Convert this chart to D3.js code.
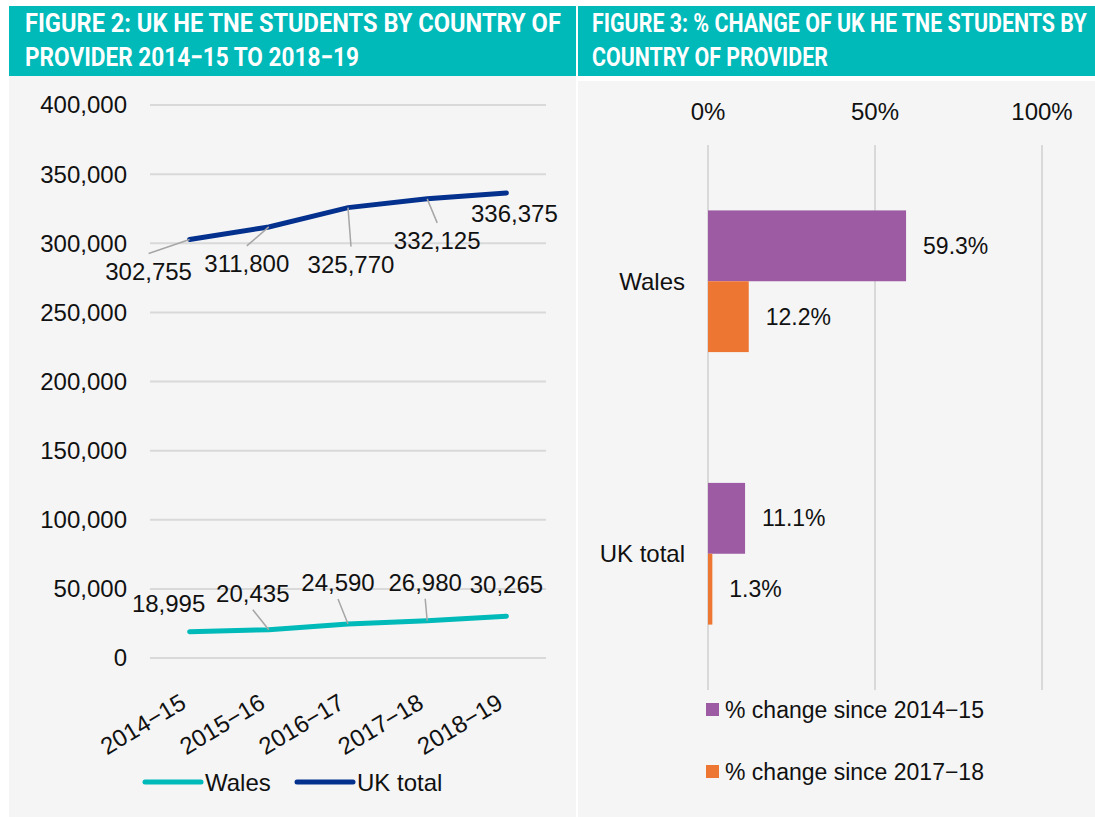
<!DOCTYPE html>
<html><head><meta charset="utf-8">
<script src="https://cdn.jsdelivr.net/npm/d3@7"></script>
<style>
html,body{margin:0;padding:0;background:#fff;}
svg{display:block;font-family:"Liberation Sans",Arial,sans-serif;}
</style></head>
<body><svg id="c" width="1095" height="817"></svg>
<script>
// ---- data ----
const years = ["2014−15", "2015−16", "2016−17", "2017−18", "2018−19"];
const walesValues = [18995, 20435, 24590, 26980, 30265];
const ukValues = [302755, 311800, 325770, 332125, 336375];
const yTicks = [0, 50000, 100000, 150000, 200000, 250000, 300000, 350000, 400000];
const lineSeries = ["Wales", "UK total"];

const barCategories = ["Wales", "UK total"];
const barSeries = ["% change since 2014−15", "% change since 2017−18"];
const since201415 = [59.3, 11.1];
const since201718 = [12.2, 1.3];
const xTicksPct = [0, 50, 100];

const title2 = ["FIGURE 2: UK HE TNE STUDENTS BY COUNTRY OF", "PROVIDER 2014−15 TO 2018−19"];
const title3 = ["FIGURE 3: % CHANGE OF UK HE TNE STUDENTS BY", "COUNTRY OF PROVIDER"];

// label offsets (styling)
const ukLabelOff = [[-41,32],[-22,37],[3,57],[10,42],[8,21]];
const ukLeader = [true,true,true,true,false];
const walesLabelOff = [[-21,-28],[-16,-36],[-10,-41],[-2,-38],[0,-32]];
const walesLeader = [false,true,true,true,false];

const svg = d3.select("#c");
const TEAL = "#00B9B9", NAVY = "#04318E", PURPLE = "#9C5BA3", ORANGE = "#ED7633", GRID = "#D9D9D9", BG = "#F5F5F5";

// panels
svg.append("rect").attr("x",9).attr("y",6).attr("width",567).attr("height",70).attr("fill",TEAL);
svg.append("rect").attr("x",9).attr("y",76).attr("width",567).attr("height",741).attr("fill",BG);
svg.append("rect").attr("x",578).attr("y",6).attr("width",517).attr("height",70).attr("fill",TEAL);
svg.append("rect").attr("x",578).attr("y",81).attr("width",517).attr("height",736).attr("fill",BG);

function title(lines, x, lens){
  lines.forEach((t,i)=>{
    const yy = i===0?32:66;
    const tx = svg.append("text").attr("x",0).attr("y",0)
      .attr("fill","#fff").attr("font-family","Roboto, sans-serif").attr("font-weight",700)
      .attr("font-size",26).text(t);
    const w = tx.node().getComputedTextLength();
    tx.attr("transform",`translate(${x},${yy}) scale(${lens[i]/w},1)`);
  });
}
title(title2, 25, [536, 334]);
title(title3, 592, [495, 236]);

// ---- Figure 2: line chart ----
const x = d3.scalePoint().domain(years).range([150,546]).padding(0.5);
const y = d3.scaleLinear().domain([0,400000]).range([658,105]);
const g = svg.append("g");

g.selectAll("line.grid").data(yTicks).enter().append("line")
  .attr("x1",150).attr("x2",546).attr("y1",d=>y(d)).attr("y2",d=>y(d))
  .attr("stroke",GRID).attr("stroke-width",2);
g.selectAll("text.yt").data(yTicks).enter().append("text")
  .attr("x",127).attr("y",d=>y(d)).attr("dy","0.35em").attr("text-anchor","end")
  .attr("font-size",24).attr("fill","#111").text(d=>d3.format(",")(d));

g.selectAll("text.xt").data(years).enter().append("text")
  .attr("transform",d=>`translate(${x(d)-2},${707}) rotate(-31)`)
  .attr("text-anchor","end").attr("font-size",24).attr("fill","#111").text(d=>d);

const line = d3.line().x((d,i)=>x(years[i])).y(d=>y(d));
g.append("path").datum(walesValues).attr("d",line).attr("fill","none").attr("stroke",TEAL).attr("stroke-width",5).attr("stroke-linecap","round");
g.append("path").datum(ukValues).attr("d",line).attr("fill","none").attr("stroke",NAVY).attr("stroke-width",5).attr("stroke-linecap","round");

function labels(vals, offs, leaders, below){
  vals.forEach((v,i)=>{
    const px = x(years[i]), py = y(v);
    const lx = px + offs[i][0], ly = py + offs[i][1];
    if (leaders[i]) {
      const ey = below ? ly - 18 : ly + 16;
      g.append("line").attr("x1",px).attr("y1",py).attr("x2",lx).attr("y2",ey)
        .attr("stroke","#A6A6A6").attr("stroke-width",1.5);
    }
    g.append("text").attr("x",lx).attr("y",ly).attr("dy","0.35em").attr("text-anchor","middle")
      .attr("font-size",24).attr("fill","#111").text(d3.format(",")(v));
  });
}
labels(ukValues, ukLabelOff, ukLeader, true);
labels(walesValues, walesLabelOff, walesLeader, false);

// legend
const lg = [{n:lineSeries[0],c:TEAL,x:145},{n:lineSeries[1],c:NAVY,x:297}];
lg.forEach(d=>{
  g.append("line").attr("x1",d.x).attr("x2",d.x+56).attr("y1",782).attr("y2",782)
    .attr("stroke",d.c).attr("stroke-width",5).attr("stroke-linecap","round");
  g.append("text").attr("x",d.x+60).attr("y",783).attr("dy","0.35em").attr("font-size",24).attr("fill","#111").text(d.n);
});

// ---- Figure 3: bar chart ----
const xb = d3.scaleLinear().domain([0,100]).range([708,1042]);
const yb = d3.scaleBand().domain(barCategories).range([145,690]).paddingInner(0.48).paddingOuter(0.24);
const ys = d3.scaleBand().domain(barSeries).range([0,yb.bandwidth()]);
const b = svg.append("g");
b.selectAll("line.vg").data(xTicksPct).enter().append("line")
  .attr("x1",d=>xb(d)).attr("x2",d=>xb(d)).attr("y1",145).attr("y2",690)
  .attr("stroke",GRID).attr("stroke-width",2);
b.selectAll("text.xt").data(xTicksPct).enter().append("text")
  .attr("x",d=>xb(d)).attr("y",112).attr("dy","0.35em").attr("text-anchor","middle")
  .attr("font-size",24).attr("fill","#111").text(d=>d+"%");
b.selectAll("text.cat").data(barCategories).enter().append("text")
  .attr("x",685).attr("y",d=>yb(d)+yb.bandwidth()/2).attr("dy","0.35em").attr("text-anchor","end")
  .attr("font-size",24).attr("fill","#111").text(d=>d);

const seriesData = [{s:barSeries[0],vals:since201415,c:PURPLE},{s:barSeries[1],vals:since201718,c:ORANGE}];
seriesData.forEach(sd=>{
  barCategories.forEach((cat,i)=>{
    const v = sd.vals[i];
    const by = yb(cat)+ys(sd.s);
    b.append("rect").attr("x",xb(0)).attr("y",by).attr("width",xb(v)-xb(0)).attr("height",ys.bandwidth()).attr("fill",sd.c);
    b.append("text").attr("x",xb(v)+17).attr("y",by+ys.bandwidth()/2).attr("dy","0.35em")
      .attr("font-size",23).attr("fill","#111").text(v.toFixed(1)+"%");
  });
});
seriesData.forEach((sd,i)=>{
  const ly = 710 + i*62;
  b.append("rect").attr("x",706).attr("y",ly-7).attr("width",13).attr("height",13).attr("fill",sd.c);
  b.append("text").attr("x",725).attr("y",ly).attr("dy","0.35em").attr("font-size",23).attr("fill","#111").text(sd.s);
});
</script></body></html>
